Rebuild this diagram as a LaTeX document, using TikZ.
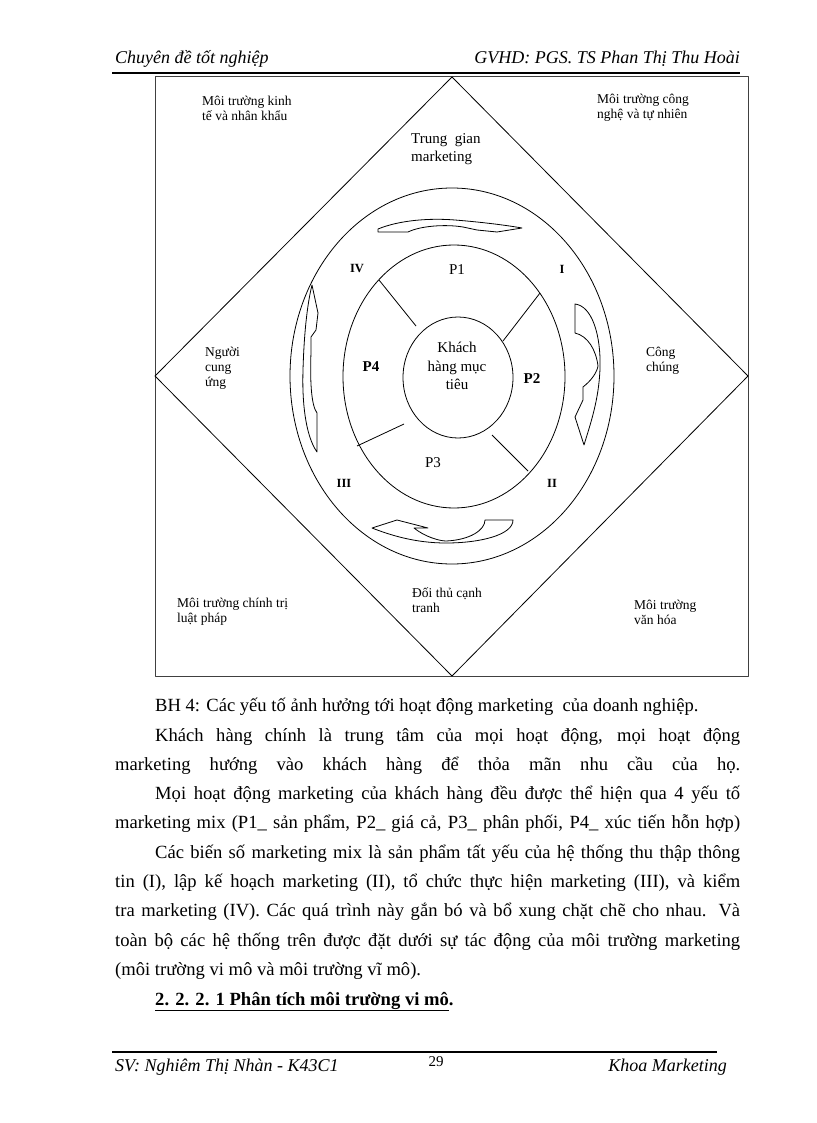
\documentclass[tikz,border=0pt]{standalone}
\usepackage{fontspec}
\setmainfont{Liberation Serif}
\begin{document}
\begin{tikzpicture}[x=1pt,y=-1pt,line join=round]
\useasboundingbox (0,0) rectangle (816,1123);
\tikzset{
 lbl/.style={font=\fontsize{13.5}{15}\selectfont, anchor=west, inner sep=0, align=left},
 mid/.style={font=\fontsize{15}{18.5}\selectfont, inner sep=0},
 pbold/.style={font=\fontsize{15}{18}\selectfont\bfseries, inner sep=0},
 roman/.style={font=\fontsize{12.5}{14}\selectfont\bfseries, inner sep=0},
 body/.style={font=\fontsize{18.6}{22}\selectfont, anchor=base west, inner sep=0},
 hdr/.style={font=\fontsize{18}{20}\selectfont\itshape, inner sep=0},
 ln/.style={line width=0.8pt},
 arr/.style={draw, line width=0.8pt, fill=white},
}
% header and footer
\node[hdr, anchor=base west] (h1) at (115,64) {Chuyên đề tốt nghiệp};
\node[hdr, anchor=base east] (h2) at (740,64) {GVHD: PGS. TS Phan Thị Thu Hoài};
\draw[line width=2pt] (112,73) -- (740,73);
\draw[line width=2pt] (112,1052) -- (717,1052);
\node[hdr, anchor=base west] (f1) at (115,1071) {SV: Nghiêm Thị Nhàn - K43C1};
\node[font=\fontsize{15}{18}\selectfont, inner sep=0, anchor=base] (f2) at (436,1066) {29};
\node[hdr, anchor=base east] (f3) at (727,1071) {Khoa Marketing};
% frame and diamond
\draw[line width=1pt, black!75] (155,77) rectangle (748,676);
\draw[ln] (452,77) -- (748,376) -- (452,676) -- (155,376) -- cycle;
% ellipses
\draw[ln] (452,376) ellipse [x radius=162pt, y radius=188pt];
\draw[ln] (454,376.5) ellipse [x radius=111pt, y radius=131.5pt];
\draw[ln] (458,377.5) ellipse [x radius=55pt, y radius=60.5pt];
% spokes
\draw[ln] (379,280) -- (416,326);
\draw[ln] (540,293) -- (503,341);
\draw[ln] (357,446) -- (404,424);
\draw[ln] (492,435) -- (528,471);
% curved arrows
\draw[arr] (378,229) .. controls (400,220) and (430,218) .. (455,220) .. controls (480,222) and (505,225) .. (522,228) -- (497,232) -- (477,230) -- (463,227) .. controls (445,224) and (420,226) .. (408,232) -- (378,232) -- cycle;
\draw[arr] (575,304) .. controls (592,306) and (601,335) .. (600,368) .. controls (599,400) and (590,425) .. (584,445) -- (575,417) -- (583,400) -- (583,387) .. controls (592,380) and (597,372) .. (598,366) .. controls (596,350) and (588,336) .. (575,333) -- cycle;
\draw[arr] (513,520) .. controls (513,535) and (480,543) .. (446,543) .. controls (415,543) and (390,535) .. (372,528) -- (397,520) -- (428,528) -- (414,528) .. controls (425,537) and (440,541) .. (446,541) .. controls (470,540) and (485,530) .. (485,520) -- cycle;
\draw[arr] (312,285) -- (318,313) -- (316,330) -- (311,337) -- (311,352) .. controls (310,380) and (311,405) .. (317,413) -- (317,452) .. controls (305,435) and (302,400) .. (303,370) .. controls (304,335) and (307,305) .. (312,285) -- cycle;
% labels
\node[lbl] (kt) at (202,108) {Môi trường kinh\\tế và nhân khẩu};
\node[lbl] (cn) at (597,108) {Môi trường công\\nghệ và tự nhiên};
\node[lbl] (nc) at (205,368) {Người\\cung\\ứng};
\node[lbl] (cc) at (646,360.5) {Công\\chúng};
\node[lbl] (ct) at (177,611.5) {Môi trường chính trị\\luật pháp};
\node[lbl] (dt) at (412,600.5) {Đối thủ cạnh\\tranh};
\node[lbl] (vh) at (634,612.5) {Môi trường\\văn hóa};
\node[mid, anchor=west, align=left] (tg) at (411,149) {Trung\ \ gian\\marketing};
\node[mid, align=center] (kh) at (457,366) {Khách\\hàng mục\\tiêu};
\node[mid] (p1) at (457,270) {P1};
\node[pbold] (p4) at (371,367) {P4};
\node[pbold] (p2) at (532,379) {P2};
\node[mid] (p3) at (433,463) {P3};
\node[roman] (r4) at (357,269) {IV};
\node[roman] (r1) at (562,269) {I};
\node[roman] (r2) at (552,483) {II};
\node[roman] (r3) at (344,483) {III};
% body text
\node[body] (b0) at (155,711) {BH 4: Các yếu tố ảnh hưởng tới hoạt động marketing\ \ của doanh nghiệp.};
\node[body] (b1) at (155,741) {\makebox[585pt][s]{Khách hàng chính là trung tâm của mọi hoạt động, mọi hoạt động}};
\node[body] (b2) at (115,770.3) {\makebox[625pt][s]{marketing hướng vào khách hàng để thỏa mãn nhu cầu của họ.}};
\node[body] (b3) at (155,799.6) {\makebox[585pt][s]{Mọi hoạt động marketing\ của khách hàng đều được thể hiện qua 4 yếu tố}};
\node[body] (b4) at (115,828.9) {\makebox[625pt][s]{marketing\ mix (P1\_ sản phẩm, P2\_ giá cả, P3\_ phân phối, P4\_ xúc tiến hỗn hợp)}};
\node[body] (b5) at (155,858.2) {\makebox[585pt][s]{Các biến số marketing\ mix là sản phẩm tất yếu của hệ thống thu thập thông}};
\node[body] (b6) at (115,887.5) {\makebox[625pt][s]{tin (I), lập kế hoạch marketing\ (II), tổ chức thực hiện marketing\ (III), và kiểm}};
\node[body] (b7) at (115,916.8) {\makebox[625pt][s]{tra marketing\ (IV). Các quá trình này gắn bó và bổ xung chặt chẽ cho nhau. Và}};
\node[body] (b8) at (115,946.1) {\makebox[625pt][s]{toàn bộ các hệ thống trên được đặt dưới sự tác động của môi trường marketing}};
\node[body] (b9) at (115,975.4) {(môi trường vi mô và môi trường vĩ mô).};
\node[body, font=\fontsize{18.6}{22}\selectfont\bfseries] (b10) at (155,1005) {\underline{2. 2. 2. 1 Phân tích môi trường vi mô}.};
\end{tikzpicture}
\end{document}
